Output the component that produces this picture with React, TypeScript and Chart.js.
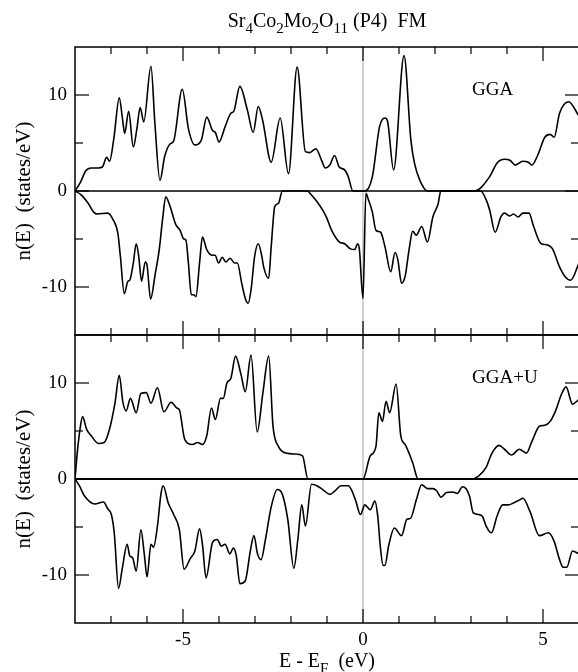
import React, { useEffect, useRef } from 'react';
import { Chart, registerables } from 'chart.js';

Chart.register(...registerables);

const FONT = "'Liberation Serif', 'Times New Roman', Times, serif";

// ---- GGA (top panel) ----
const ggaUpE = [-8.0, -7.85, -7.7, -7.55, -7.35, -7.24, -7.12, -7.04, -6.92, -6.77, -6.68, -6.62, -6.51, -6.38, -6.28, -6.19, -6.09, -5.89, -5.78, -5.64, -5.51, -5.36, -5.26, -5.02, -4.85, -4.67, -4.49, -4.34, -4.18, -4.1, -4.0, -3.83, -3.67, -3.59, -3.42, -3.21, -3.05, -2.91, -2.79, -2.55, -2.3, -2.07, -1.83, -1.6, -1.48, -1.31, -1.15, -1.05, -0.92, -0.79, -0.66, -0.51, -0.41, -0.28, 0.05, 0.26, 0.46, 0.61, 0.68, 0.85, 1.14, 1.33, 1.43, 1.58, 1.79, 3.1, 3.52, 3.72, 3.93, 4.08, 4.23, 4.44, 4.59, 4.69, 4.85, 5.05, 5.2, 5.31, 5.46, 5.71, 6.0];
const ggaUpN = [0, 0.9, 2.1, 2.4, 2.4, 2.5, 3.5, 3.1, 5.5, 9.7, 7.5, 6.0, 8.3, 4.6, 6.5, 8.7, 7.2, 13.0, 7.0, 1.1, 3.6, 4.9, 5.2, 10.6, 6.5, 4.8, 5.3, 7.7, 6.3, 6.1, 5.1, 6.7, 8.1, 8.3, 10.9, 8.4, 6.1, 8.8, 7.4, 3.0, 7.6, 1.8, 12.9, 4.1, 4.0, 4.4, 3.2, 2.4, 2.7, 3.7, 2.5, 2.2, 1.5, 0, 0, 1.5, 6.7, 7.6, 7.3, 2.2, 14.1, 5.3, 2.9, 1.1, 0, 0, 1.5, 2.9, 3.3, 3.2, 2.7, 3.1, 3.0, 2.7, 3.7, 5.6, 5.9, 5.6, 8.1, 9.3, 7.8];

const ggaDnE = [-8.0, -7.83, -7.63, -7.48, -7.38, -7.09, -6.94, -6.81, -6.74, -6.63, -6.53, -6.48, -6.38, -6.3, -6.23, -6.15, -6.05, -6.0, -5.9, -5.77, -5.66, -5.56, -5.48, -5.36, -5.2, -5.08, -4.98, -4.92, -4.85, -4.77, -4.7, -4.64, -4.54, -4.46, -4.34, -4.18, -4.11, -4.01, -3.91, -3.81, -3.69, -3.57, -3.49, -3.37, -3.27, -3.19, -3.11, -3.01, -2.91, -2.81, -2.76, -2.62, -2.55, -2.45, -2.35, -2.24, -1.53, -1.48, -1.28, -1.12, -1.02, -0.87, -0.66, -0.51, -0.36, -0.23, -0.15, -0.1, 0.0, 0.08, 0.15, 0.26, 0.36, 0.49, 0.61, 0.77, 0.89, 0.97, 1.07, 1.17, 1.28, 1.38, 1.48, 1.63, 1.79, 1.94, 2.09, 2.16, 3.27, 3.42, 3.52, 3.67, 3.83, 3.93, 4.08, 4.18, 4.31, 4.44, 4.61, 4.74, 4.95, 5.1, 5.26, 5.46, 5.61, 5.77, 6.0];
const ggaDnN = [0, -0.4, -1.3, -2.2, -2.4, -2.3, -3.0, -4.4, -6.8, -10.7, -9.4, -9.3, -7.5, -5.5, -6.8, -9.4, -7.4, -7.7, -11.25, -8.6, -6.1, -2.7, -0.6, -1.6, -3.5, -4.1, -5.0, -5.1, -7.5, -10.8, -10.8, -11.0, -7.5, -4.8, -6.1, -6.7, -6.7, -7.5, -6.9, -7.4, -7.0, -7.5, -7.5, -9.6, -11.2, -11.7, -10.3, -6.8, -5.5, -6.8, -7.9, -9.1, -5.8, -1.6, -1.3, 0, 0, -0.2, -1.1, -2.0, -2.7, -4.1, -5.3, -5.5, -6.0, -6.1, -5.5, -6.1, -11.2, -0.25, -0.9, -2.2, -4.1, -4.3, -5.8, -8.4, -6.4, -7.2, -9.6, -8.9, -6.1, -4.2, -4.6, -3.7, -5.3, -2.7, -1.3, 0, 0, -0.9, -2.0, -4.3, -2.7, -2.3, -2.6, -2.4, -2.7, -2.3, -2.3, -3.7, -5.5, -5.6, -6.0, -7.9, -8.9, -9.3, -7.5];

// ---- GGA+U (bottom panel) ----
const ggauUpE = [-8.0, -7.93, -7.86, -7.79, -7.68, -7.55, -7.35, -7.19, -7.04, -6.89, -6.77, -6.67, -6.58, -6.46, -6.3, -6.17, -6.02, -5.89, -5.71, -5.53, -5.33, -5.17, -5.1, -4.95, -4.74, -4.59, -4.46, -4.34, -4.21, -4.1, -3.96, -3.88, -3.78, -3.67, -3.54, -3.39, -3.27, -3.11, -2.94, -2.78, -2.62, -2.5, -2.35, -2.14, -1.89, -1.68, -1.53, 0.0, 0.2, 0.36, 0.44, 0.54, 0.64, 0.74, 0.92, 1.05, 1.17, 1.38, 1.53, 3.01, 3.21, 3.42, 3.57, 3.78, 3.93, 4.13, 4.34, 4.54, 4.69, 4.9, 5.05, 5.2, 5.36, 5.51, 5.64, 5.82, 6.0];
const ggauUpN = [0, 3.0, 5.2, 6.5, 5.2, 4.5, 3.7, 3.8, 5.2, 7.9, 10.8, 8.0, 7.1, 8.4, 6.9, 8.9, 9.0, 7.9, 9.5, 7.0, 8.0, 7.4, 7.2, 4.1, 3.6, 3.8, 3.6, 4.5, 7.4, 6.2, 8.4, 8.4, 10.0, 10.5, 12.8, 10.9, 9.1, 12.9, 4.9, 9.0, 12.8, 5.5, 3.4, 2.7, 2.6, 2.4, 0, 0, 2.4, 3.4, 6.9, 6.0, 8.1, 6.9, 9.9, 4.5, 3.6, 1.7, 0, 0, 0.3, 1.2, 2.6, 3.5, 3.1, 2.5, 3.1, 2.7, 3.9, 5.5, 5.6, 6.0, 7.2, 8.8, 9.6, 7.8, 8.3];

const ggauDnE = [-8.0, -7.88, -7.73, -7.45, -7.21, -7.09, -6.99, -6.91, -6.79, -6.69, -6.55, -6.48, -6.4, -6.3, -6.17, -6.07, -6.0, -5.89, -5.82, -5.71, -5.61, -5.55, -5.41, -5.26, -5.1, -4.97, -4.8, -4.67, -4.54, -4.46, -4.36, -4.18, -4.05, -3.93, -3.83, -3.7, -3.6, -3.52, -3.42, -3.27, -3.13, -3.03, -2.93, -2.83, -2.71, -2.55, -2.38, -2.24, -2.09, -1.92, -1.81, -1.7, -1.6, -1.43, -1.28, -1.12, -0.92, -0.77, -0.61, -0.41, -0.31, -0.2, -0.07, 0.05, 0.2, 0.33, 0.41, 0.48, 0.56, 0.61, 0.71, 0.87, 1.07, 1.22, 1.32, 1.48, 1.63, 1.79, 1.94, 2.04, 2.17, 2.32, 2.5, 2.62, 2.76, 2.86, 2.96, 3.06, 3.21, 3.32, 3.42, 3.57, 3.72, 3.88, 4.03, 4.18, 4.34, 4.44, 4.64, 4.9, 5.15, 5.31, 5.46, 5.56, 5.66, 5.82, 6.0];
const ggauDnN = [0, -0.7, -1.8, -2.6, -2.4, -3.1, -3.7, -5.6, -11.4, -9.4, -6.8, -8.0, -8.2, -9.6, -5.3, -8.0, -10.2, -6.8, -7.1, -4.9, -1.5, -0.7, -2.5, -3.7, -5.3, -9.4, -8.3, -7.5, -5.2, -6.8, -10.3, -6.6, -6.3, -7.0, -6.8, -7.8, -7.2, -8.0, -10.9, -10.6, -7.5, -5.9, -7.8, -8.4, -6.3, -2.9, -1.1, -1.6, -4.2, -9.3, -6.3, -2.7, -4.9, -0.55, -0.7, -1.1, -1.6, -1.2, -0.7, -0.7, -1.2, -2.3, -3.7, -2.7, -3.2, -2.3, -3.9, -7.0, -9.0, -9.0, -7.0, -5.1, -5.9, -4.2, -4.1, -2.2, -0.6, -1.0, -1.0, -1.2, -1.9, -1.4, -1.35, -1.5, -0.8, -1.0, -1.8, -3.5, -3.7, -3.9, -4.9, -5.6, -3.9, -2.7, -2.7, -2.5, -2.2, -2.0, -3.4, -5.9, -5.6, -6.5, -8.4, -9.2, -9.2, -7.5, -7.8];

// ---- axes / labels ----
const xRange = [-8, 6];
const yRange = [-15, 15];
const xMajorTicks = [-5, 0, 5];
const yMajorTicks = [-10, 0, 10];
const yMinorTicks = [-5, 5];
const panelLabels = ['GGA', 'GGA+U'];
const panelLabelPos = [3.03, 10];
const yTitle = 'n(E)  (states/eV)';

const toPts = (e: number[], n: number[]) => e.map((v, i) => ({ x: v, y: n[i] }));

const lineDs = (e: number[], n: number[], axis: string) => ({
  data: toPts(e, n),
  yAxisID: axis,
  xAxisID: 'x',
  borderColor: '#000',
  borderWidth: 1.6,
  pointRadius: 0,
  fill: false,
  cubicInterpolationMode: 'monotone' as const,
});

const decor = {
  id: 'decor',
  beforeDatasetsDraw(chart: any) {
    const { ctx } = chart;
    const xs = chart.scales.x;
    const yt = chart.scales.yTop;
    const yb = chart.scales.yBot;
    const p = xs.getPixelForValue(0);
    ctx.save();
    ctx.strokeStyle = '#d2d2d2';
    ctx.lineWidth = 2;
    ctx.beginPath();
    ctx.moveTo(p, yt.getPixelForValue(15));
    ctx.lineTo(p, yb.getPixelForValue(-15));
    ctx.stroke();
    ctx.restore();
  },
  afterDatasetsDraw(chart: any) {
    const { ctx } = chart;
    const xs = chart.scales.x;
    const line = (x1: number, y1: number, x2: number, y2: number) => {
      ctx.beginPath();
      ctx.moveTo(x1, y1);
      ctx.lineTo(x2, y2);
      ctx.stroke();
    };
    ['yTop', 'yBot'].forEach((id, i) => {
      const ys = chart.scales[id];
      const top = ys.getPixelForValue(yRange[1]);
      const bottom = ys.getPixelForValue(yRange[0]);
      const left = xs.getPixelForValue(xRange[0]);
      const right = xs.getPixelForValue(xRange[1]);
      ctx.save();
      ctx.strokeStyle = '#000';
      ctx.lineWidth = i === 0 ? 1.3 : 2;
      const z = ys.getPixelForValue(0);
      line(left, z, right, z);
      ctx.lineWidth = 1.5;
      ctx.strokeRect(left, top, right - left, bottom - top);
      ctx.lineWidth = 1.2;
      for (let v = xRange[0] + 1; v < xRange[1]; v += 1) {
        const p = xs.getPixelForValue(v);
        const len = xMajorTicks.includes(v) ? 14 : 7;
        line(p, top, p, top + len);
        line(p, bottom, p, bottom - len);
      }
      [...yMajorTicks, ...yMinorTicks].forEach((v) => {
        const p = ys.getPixelForValue(v);
        const len = yMajorTicks.includes(v) ? 14 : 8;
        line(left, p, left + len, p);
        line(right, p, right - len, p);
      });
      ctx.fillStyle = '#000';
      ctx.font = `19px ${FONT}`;
      ctx.textAlign = 'left';
      ctx.textBaseline = 'alphabetic';
      ctx.fillText(panelLabels[i], xs.getPixelForValue(panelLabelPos[0]), ys.getPixelForValue(panelLabelPos[1]));
      ctx.restore();
    });
  },
};

const yAxis = () => ({
  type: 'linear' as const,
  position: 'left' as const,
  stack: 'panels',
  stackWeight: 1,
  min: yRange[0],
  max: yRange[1],
  grid: { display: false, drawTicks: false },
  border: { display: false },
  afterBuildTicks: (s: any) => {
    s.ticks = yMajorTicks.map((v) => ({ value: v }));
  },
  afterFit: (s: any) => {
    s.width = 75;
  },
  ticks: { font: { family: FONT, size: 19 }, color: '#000', padding: 8 },
  title: {
    display: true,
    text: yTitle,
    font: { family: FONT, size: 21 },
    color: '#000',
    padding: { top: 12, bottom: 0 },
  },
});

export default function App() {
  const ref = useRef<HTMLCanvasElement | null>(null);
  useEffect(() => {
    if (!ref.current) return;
    const chart = new Chart(ref.current, {
      type: 'line',
      data: {
        datasets: [
          lineDs(ggaUpE, ggaUpN, 'yTop'),
          lineDs(ggaDnE, ggaDnN, 'yTop'),
          lineDs(ggauUpE, ggauUpN, 'yBot'),
          lineDs(ggauDnE, ggauDnN, 'yBot'),
        ] as any,
      },
      options: {
        responsive: false,
        maintainAspectRatio: false,
        devicePixelRatio: 1,
        animation: false,
        layout: { padding: { top: 47, right: 21, bottom: 0, left: 0 } },
        plugins: { legend: { display: false }, tooltip: { enabled: false }, title: { display: false } },
        scales: {
          x: {
            type: 'linear',
            position: 'bottom',
            min: xRange[0],
            max: xRange[1],
            grid: { display: false, drawTicks: false },
            border: { display: false },
            afterBuildTicks: (s: any) => {
              s.ticks = xMajorTicks.map((v) => ({ value: v }));
            },
            afterFit: (s: any) => {
              s.height = 49;
            },
            ticks: { font: { family: FONT, size: 19 }, color: '#000', padding: 6, maxRotation: 0, autoSkip: false },
          },
          yBot: yAxis(),
          yTop: yAxis(),
        } as any,
      },
      plugins: [decor],
    });
    return () => chart.destroy();
  }, []);

  const txt: React.CSSProperties = {
    position: 'absolute',
    left: 127,
    width: 400,
    textAlign: 'center',
    fontFamily: FONT,
    fontSize: 20,
    lineHeight: '20px',
    whiteSpace: 'pre',
    color: '#000',
  };
  const sub: React.CSSProperties = { fontSize: 15, verticalAlign: 'baseline', position: 'relative', top: 6 };

  return (
    <div style={{ position: 'fixed', left: 0, top: 0, width: 578, height: 672, overflow: 'hidden', background: '#fff' }}>
      <canvas ref={ref} width={600} height={672} style={{ display: 'block', width: 600, height: 672 }} />
      <div style={{ ...txt, top: 10 }}>
        Sr<sub style={sub}>4</sub>Co<sub style={sub}>2</sub>Mo<sub style={sub}>2</sub>O<sub style={sub}>11</sub>{' (P4)  FM'}
      </div>
      <div style={{ ...txt, top: 650 }}>
        {'E - E'}<sub style={sub}>F</sub>{'  (eV)'}
      </div>
    </div>
  );
}
